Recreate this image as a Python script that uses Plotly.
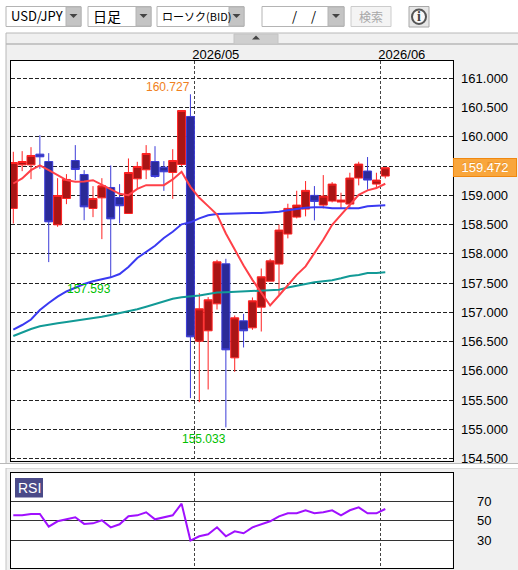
"""USD/JPY daily candle chart with moving averages and an RSI panel."""

import plotly.graph_objects as go

WIDTH = 518
HEIGHT = 570

# daily bars, oldest first
opens = [158.775, 159.521, 159.521, 159.704, 159.578, 158.496, 158.946, 159.595, 159.356, 158.775,
         158.957, 159.134, 158.963, 158.689, 159.282, 159.436, 159.578, 159.481, 159.390, 159.527,
         160.348, 156.507, 156.684, 157.145, 157.829, 156.222, 156.855, 156.735, 157.088, 157.533,
         157.825, 158.338, 158.628, 158.765, 158.999, 158.833, 158.902, 158.885, 158.850, 159.295,
         159.415, 159.192, 159.329]
highs = [159.744, 159.755, 159.823, 160.028, 159.721, 159.293, 159.362, 159.858, 159.430, 159.157,
         159.293, 159.510, 159.191, 159.630, 159.573, 159.858, 159.840, 159.584, 159.789, 160.450,
         160.727, 157.328, 157.260, 157.897, 157.915, 156.946, 156.974, 157.254, 157.749, 157.915,
         158.500, 158.856, 159.078, 159.244, 159.158, 159.346, 159.226, 159.044, 159.386, 159.574,
         159.654, 159.386, 159.477]
lows = [158.518, 159.413, 159.276, 159.453, 157.858, 158.462, 158.849, 159.259, 158.575, 158.627,
        158.251, 157.593, 158.519, 158.689, 159.117, 159.276, 159.299, 159.077, 158.940, 159.500,
        155.533, 155.464, 155.681, 157.048, 155.033, 155.983, 156.399, 156.701, 156.672, 157.533,
        157.300, 158.264, 158.605, 158.640, 158.571, 158.776, 158.879, 158.765, 158.765, 159.170,
        159.095, 159.118, 159.289]
closes = [159.561, 159.578, 159.681, 159.658, 158.547, 158.997, 159.271, 159.442, 158.803, 158.946,
          159.162, 158.598, 158.821, 159.390, 159.493, 159.715, 159.322, 159.402, 159.595, 160.450,
          156.581, 157.060, 157.214, 157.863, 156.359, 156.906, 156.684, 157.197, 157.607, 157.880,
          158.406, 158.776, 158.833, 159.084, 158.896, 158.987, 159.192, 158.919, 159.295, 159.534,
          159.261, 159.261, 159.472]

ma_short = [159.202, 159.288, 159.430, 159.510, 159.430, 159.345, 159.259, 159.231, 159.236, 159.259,
            159.185, 159.105, 159.026, 159.003, 159.111, 159.174, 159.174, 159.174, 159.271, 159.402,
            159.145, 158.957, 158.815, 158.672, 158.348, 158.070, 157.800, 157.555, 157.333, 157.117,
            157.288, 157.459, 157.640, 157.785, 158.010, 158.240, 158.497, 158.668, 158.822, 159.010,
            159.084, 159.124, 159.198]
ma_mid = [156.706, 156.783, 156.877, 157.039, 157.159, 157.267, 157.356, 157.424, 157.484, 157.530,
          157.569, 157.598, 157.655, 157.774, 157.928, 158.036, 158.138, 158.270, 158.378, 158.504,
          158.538, 158.607, 158.658, 158.680, 158.685, 158.697, 158.697, 158.697, 158.697, 158.706,
          158.720, 158.744, 158.766, 158.788, 158.795, 158.795, 158.778, 158.778, 158.778, 158.778,
          158.812, 158.817, 158.829]
ma_long = [156.595, 156.655, 156.715, 156.761, 156.791, 156.814, 156.834, 156.855, 156.874, 156.894,
           156.923, 156.954, 156.985, 157.019, 157.053, 157.096, 157.142, 157.188, 157.233, 157.256,
           157.267, 157.287, 157.313, 157.337, 157.344, 157.350, 157.357, 157.364, 157.366, 157.369,
           157.386, 157.424, 157.458, 157.484, 157.513, 157.530, 157.547, 157.581, 157.620, 157.637,
           157.672, 157.672, 157.684]
rsi = [55.6, 55.6, 57.0, 57.0, 44.0, 49.5, 51.5, 53.6, 46.8, 47.4,
       50.5, 43.3, 46.4, 54.6, 55.6, 58.7, 51.5, 53.6, 55.6, 67.6,
       29.7, 34.1, 36.2, 43.3, 34.1, 39.2, 37.2, 43.3, 46.8, 49.5,
       54.6, 57.7, 57.7, 60.8, 57.7, 58.7, 60.8, 55.6, 60.8, 63.8,
       57.7, 57.7, 62.1]

days = list(range(len(closes)))

price_ticks = [154.5, 155.0, 155.5, 156.0, 156.5, 157.0, 157.5, 158.0, 158.5, 159.0, 159.5, 160.0, 160.5, 161.0]
rsi_ticks = [30, 50, 70]
month_ticks = [20.5, 41.5]
month_labels = ["2026/05", "2026/06"]

last_price = 159.472
high_mark = (20, 160.727)
low_mark = (24, 155.033)
left_low_mark = (11, 157.593)

FONT = "Liberation Sans"
JP_FONT = "Noto Sans CJK JP"
BG = "#f0f0f0"
RED = "#ff2222"
BLUE = "#3c3cd8"


def px(x):
    return x / WIDTH


def py(y):
    return 1 - y / HEIGHT


def box(x0, y0, x1, y1, fill=None, line=None, layer="below"):
    return dict(
        type="rect", xref="paper", yref="paper", x0=px(x0), x1=px(x1), y0=py(y0), y1=py(y1),
        fillcolor=fill or "rgba(0,0,0,0)", line=dict(color=line or "rgba(0,0,0,0)", width=1), layer=layer,
    )


def triangle(cx, cy, up=False, size=4):
    # small arrow glyph on the dropdown buttons
    tip = cy - size if up else cy + size
    path = f"M {px(cx - size)} {py(cy)} L {px(cx + size)} {py(cy)} L {px(cx)} {py(tip)} Z"
    return dict(type="path", xref="paper", yref="paper", path=path, fillcolor="#444444",
                line=dict(width=0), layer="above")


def label(x, y, text, size=14, color="#000000", family=JP_FONT, xanchor="left"):
    return dict(xref="paper", yref="paper", x=px(x), y=py(y), text=text, showarrow=False,
                xanchor=xanchor, yanchor="middle", font=dict(family=family, size=size, color=color))


fig = go.Figure()

fig.add_trace(go.Candlestick(
    x=days, open=opens, high=highs, low=lows, close=closes,
    increasing=dict(line=dict(color=RED, width=1), fillcolor="#aa1515"),
    decreasing=dict(line=dict(color=BLUE, width=1), fillcolor="#2a2a98"),
    whiskerwidth=0, xaxis="x", yaxis="y", showlegend=False,
))
fig.add_trace(go.Scatter(x=days, y=ma_long, mode="lines", line=dict(color="#129a96", width=2),
                         xaxis="x", yaxis="y", showlegend=False))
fig.add_trace(go.Scatter(x=days, y=ma_mid, mode="lines", line=dict(color="#3a3af2", width=2),
                         xaxis="x", yaxis="y", showlegend=False))
fig.add_trace(go.Scatter(x=days, y=ma_short, mode="lines", line=dict(color="#ff4048", width=2),
                         xaxis="x", yaxis="y", showlegend=False))
fig.add_trace(go.Scatter(x=days, y=rsi, mode="lines", line=dict(color="#a010ff", width=2),
                         xaxis="x2", yaxis="y2", showlegend=False))

shapes = [
    # toolbar and panel chrome
    box(0, 0, WIDTH, 33, fill="#ffffff"),
    box(0, 33, 6, HEIGHT, fill="#ffffff"),
    box(6, 33, WIDTH + 2, 44, fill=BG, line="#b8b8b8"),
    box(6, 44, WIDTH + 2, 464, line="#b8b8b8"),
    box(234, 34, 278, 44, fill="#cfcfcf", line="#c4c4c4", layer="above"),
    box(0, 463.5, WIDTH, 468, fill="#ffffff", layer="above"),
    box(0, 463.5, WIDTH, 463.5, line="#b8b8b8", layer="above"),
    box(6, 468, WIDTH + 2, HEIGHT + 2, line="#c4c4c4", layer="below"),
    box(15, 478, 43, 497.5, fill="#4a4a88", layer="above"),
    box(351, 6.5, 391, 26.5, fill="#f4f4f4", line="#cccccc"),
    box(409, 6.5, 429, 27, fill="#e6e6e6", line="#a8a8a8"),
    dict(type="circle", xref="paper", yref="paper", x0=px(412), x1=px(426), y0=py(9.5), y1=py(24),
         fillcolor="#f8f8f8", line=dict(color="#555555", width=2), layer="above"),
    triangle(256, 39.5, up=True),
]
dropdowns = [(6, 66, 81), (88, 136, 151), (157, 229, 244), (262, 328, 344)]
for left, split, right in dropdowns:
    shapes.append(box(left, 6.5, right, 26.5, fill="#ffffff", line="#b4b4b4"))
    shapes.append(box(split, 7, right, 26, fill="#c4c4c4", line="#b4b4b4"))
    shapes.append(triangle((split + right) / 2, 14))

annotations = [
    label(9, 16, "USD/JPY", size=13),
    label(91, 16, "日足", size=14),
    label(160, 16, "ローソク(BID)", size=11),
    label(290, 16, "/", size=13),
    label(309, 16, "/", size=13),
    label(371, 16.5, "検索", size=12, color="#a8a8a8", xanchor="center"),
    label(419, 16.5, "<b>i</b>", size=14, color="#444444", family="Liberation Serif", xanchor="center"),
    label(29, 488, "RSI", size=14, color="#ffffff", family=FONT, xanchor="center"),
    # extreme prices next to their wicks
    dict(x=high_mark[0], y=high_mark[1], xref="x", yref="y", text=f"{high_mark[1]:.3f}", showarrow=False,
         xanchor="right", yanchor="bottom", xshift=2, yshift=-2, font=dict(family=FONT, size=12, color="#f08020")),
    dict(x=low_mark[0], y=low_mark[1], xref="x", yref="y", text=f"{low_mark[1]:.3f}", showarrow=False,
         xanchor="right", yanchor="top", xshift=2, yshift=-3, font=dict(family=FONT, size=12, color="#00c000")),
    dict(x=left_low_mark[0], y=left_low_mark[1], xref="x", yref="y", text=f"{left_low_mark[1]:.3f}",
         showarrow=False, xanchor="right", yanchor="top", xshift=2, yshift=-2,
         font=dict(family=FONT, size=12, color="#00c000")),
    # current price tag
    dict(x=1, y=last_price, xref="paper", yref="y", text=f"{last_price:.3f}", showarrow=False,
         xanchor="left", yanchor="middle", xshift=-65.5, width=60, height=15, bgcolor="rgba(250,160,45,0.92)",
         bordercolor="#f08810", borderwidth=1, borderpad=1, align="center",
         font=dict(family=FONT, size=13, color="#ffffff")),
]

axis_common = dict(
    showline=True, mirror=True, linecolor="#000000", linewidth=1, zeroline=False, automargin=False,
    tickfont=dict(family=FONT, size=13, color="#000000"), ticks="",
)

fig.update_layout(
    width=WIDTH,
    height=HEIGHT,
    margin=dict(l=0, r=0, t=0, b=0),
    paper_bgcolor=BG,
    plot_bgcolor="#ffffff",
    showlegend=False,
    boxgap=0.1,
    boxgroupgap=0,
    shapes=shapes,
    annotations=annotations,
    xaxis=dict(
        axis_common, domain=[px(10.5), px(452.5)], range=[-0.316, 49.59], side="top", anchor="y",
        tickmode="array", tickvals=month_ticks, ticktext=month_labels, ticklabelshift=21,
        ticklabelstandoff=-4, showgrid=True, gridcolor="#444444", griddash="3px,2px", gridwidth=1,
        rangeslider=dict(visible=False),
    ),
    yaxis=dict(
        axis_common, domain=[py(460.5), py(61)], range=[154.467, 161.296], side="right", anchor="x",
        tickmode="array", tickvals=price_ticks, tickformat=".3f", ticklabelstandoff=5,
        showgrid=True, gridcolor="#222222", griddash="4px,2px", gridwidth=1,
    ),
    xaxis2=dict(
        axis_common, domain=[px(10.5), px(452.5)], range=[-0.316, 49.59], anchor="y2",
        tickmode="array", tickvals=month_ticks, showticklabels=False,
        showgrid=True, gridcolor="#444444", griddash="3px,2px", gridwidth=1,
    ),
    yaxis2=dict(
        axis_common, domain=[py(568.3), py(473.3)], range=[1.3, 98.7], side="right", anchor="x2",
        tickmode="array", tickvals=rsi_ticks, ticklabelstandoff=21,
        showgrid=True, gridcolor="#333333", griddash="solid", gridwidth=1,
    ),
)

# the page's default body margin would push the chart off the window
fig.write_html("out.html", config=dict(displayModeBar=False),
               post_script="document.body.style.margin='0';document.body.style.overflow='hidden';")
